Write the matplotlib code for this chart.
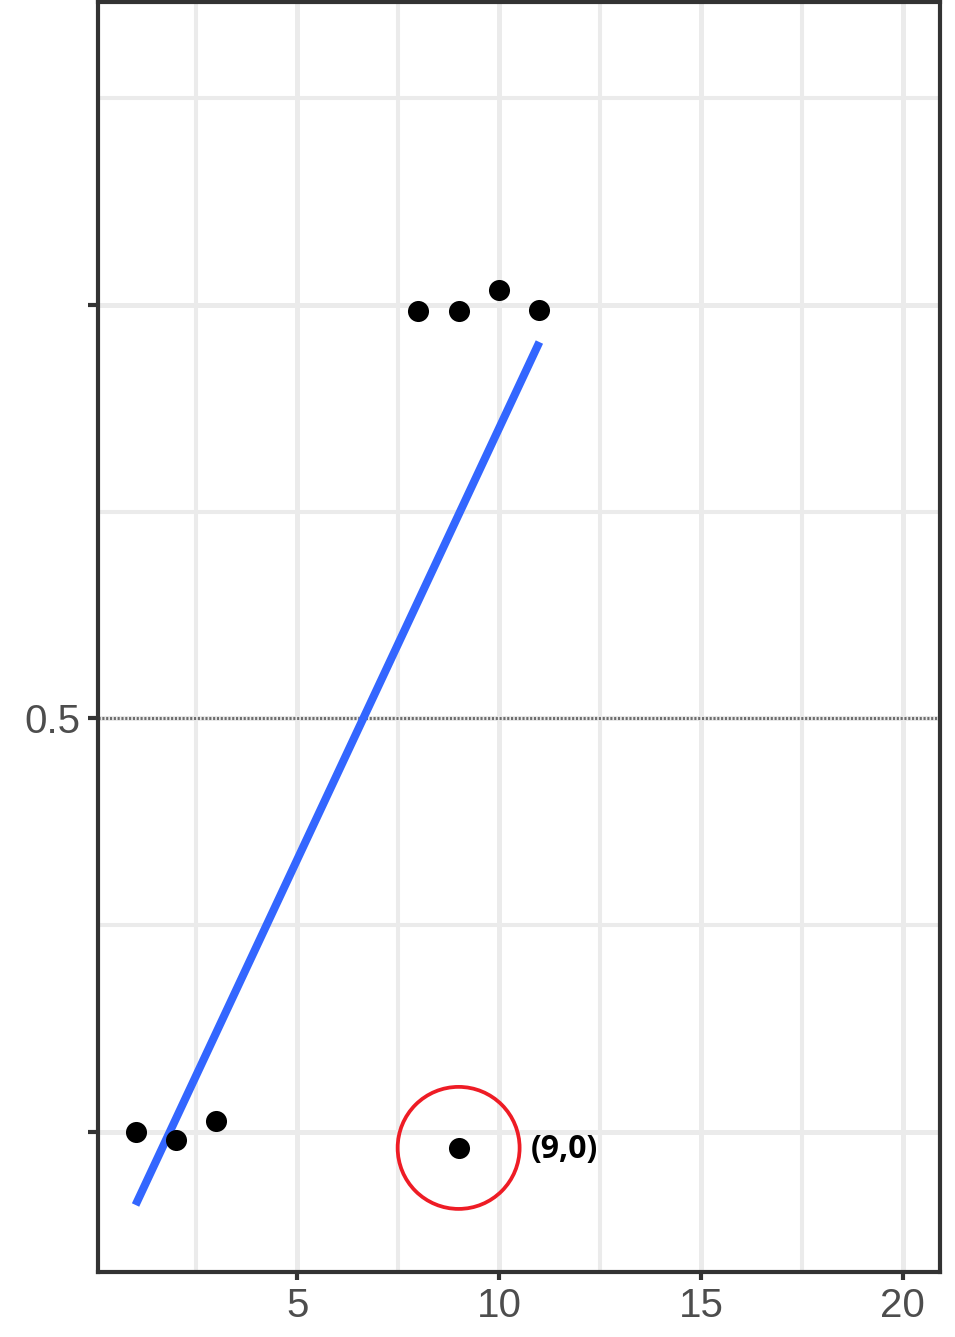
import matplotlib.pyplot as plt
from matplotlib.patches import Ellipse
import numpy as np

plt.rcParams['font.family'] = ['Liberation Sans', 'DejaVu Sans']

# data points (small jitter in y)
pt_x = [1, 2, 3, 8, 9, 10, 11, 9]
pt_y = [0.0, -0.010, 0.013, 0.993, 0.993, 1.018, 0.994, -0.019]

# fitted line endpoints
fit_x = [1, 11]
fit_y = [-0.088, 0.955]

x_ticks = [5, 10, 15, 20]
x_labels = ['5', '10', '15', '20']
y_ticks = [0, 0.5, 1]
y_labels = ['', '0.5', '']

highlight = (9, -0.019)
note = '(9,0)'

fig = plt.figure(figsize=(9.55, 13.37), dpi=100)
ax = fig.add_axes([98/955, 65/1337, 842/955, 1270/1337])

ax.set_xlim(0.07, 20.92)
ax.set_ylim(-0.169, 1.366)

# grid, ggplot style
ax.set_xticks(x_ticks)
ax.set_xticklabels(x_labels)
ax.set_yticks(y_ticks)
ax.set_yticklabels(y_labels)
ax.set_xticks([2.5, 7.5, 12.5, 17.5], minor=True)
ax.set_yticks([0.25, 0.75, 1.25], minor=True)
ax.grid(True, which='major', color='#EBEBEB', linewidth=3.6, zorder=0)
ax.grid(True, which='minor', color='#EBEBEB', linewidth=2.9, zorder=0)
ax.set_axisbelow(True)

ax.tick_params(which='major', length=5.5, width=3, color='#333333',
               labelsize=29, labelcolor='#4D4D4D', pad=5)
ax.tick_params(axis='y', which='major', length=7, pad=6)
ax.tick_params(which='minor', length=0)
for sp in ax.spines.values():
    sp.set_linewidth(3)
    sp.set_color('#333333')

ax.axhline(0.5, color='#6E6E6E', linewidth=2.2, linestyle=(0, (0.7, 0.55)), zorder=1)

ax.plot(fit_x, fit_y, color='#3366FF', linewidth=5.8, solid_capstyle='butt', zorder=2)
ax.scatter(pt_x, pt_y, s=230, color='black', zorder=3, linewidths=0)

ax.add_patch(Ellipse(highlight, width=3.02, height=0.1475, fill=False,
                     edgecolor='#EE1C25', linewidth=2.7, zorder=4))
ax.text(10.79, -0.0215, note, fontsize=23, fontweight='bold',
        family=['Open Sans', 'DejaVu Sans'], ha='left', va='center', zorder=5)

fig.savefig('out.png', dpi=100)
